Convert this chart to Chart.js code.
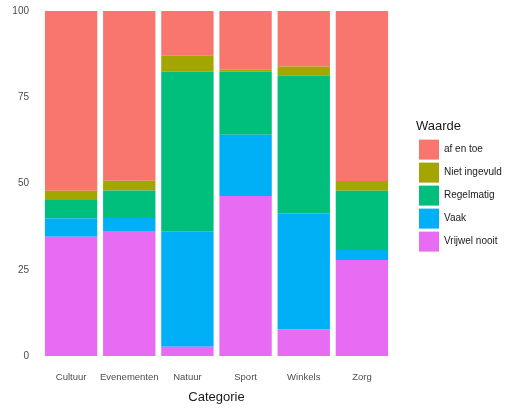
<!DOCTYPE html>
<html>
<head>
<meta charset="utf-8">
<script src="https://cdn.jsdelivr.net/npm/chart.js@4"></script>
<style>
body { margin: 0; background: #fff; }
#wrap { width: 510px; height: 410px; }
</style>
</head>
<body>
<div id="wrap"><canvas id="chart"></canvas></div>
<script>
const categories = ['Cultuur', 'Evenementen', 'Natuur', 'Sport', 'Winkels', 'Zorg']
const vrijwelNooit = [34.6, 36.0, 2.7, 46.4, 7.7, 27.8]
const vaak = [5.3, 4.0, 33.3, 17.7, 33.7, 2.9]
const regelmatig = [5.3, 8.0, 46.4, 18.3, 39.8, 17.2]
const nietIngevuld = [2.7, 2.8, 4.6, 0.6, 2.7, 2.8]
const afEnToe = [52.1, 49.2, 13.0, 17.0, 16.1, 49.3]
const yTicks = [0, 25, 50, 75, 100]

const font = "'Liberation Sans', Arial, sans-serif"

// move the legend to where ggplot puts it
const legendSpot = {
	id: 'legendSpot',
	afterLayout(chart) {
		const lg = chart.legend
		const w = lg.width, h = lg.height
		lg.left = 416
		lg.right = 416 + w
		lg.top = 117
		lg.bottom = 117 + h
	}
}

const chart = new Chart(document.getElementById('chart'), {
	type: 'bar',
	data: {
		labels: categories,
		datasets: [
			{ label: 'Vrijwel nooit', data: vrijwelNooit, backgroundColor: '#E76BF3' },
			{ label: 'Vaak', data: vaak, backgroundColor: '#00B0F6' },
			{ label: 'Regelmatig', data: regelmatig, backgroundColor: '#00BF7D' },
			{ label: 'Niet ingevuld', data: nietIngevuld, backgroundColor: '#A3A500' },
			{ label: 'af en toe', data: afEnToe, backgroundColor: '#F8766D' }
		]
	},
	plugins: [legendSpot],
	options: {
		responsive: true,
		maintainAspectRatio: false,
		animation: false,
		events: [],
		datasets: {
			bar: { barPercentage: 0.9, categoryPercentage: 1, borderWidth: 0 }
		},
		layout: { padding: { top: 11, left: 0, right: 0, bottom: 5 } },
		scales: {
			x: {
				stacked: true,
				afterFit: s => { s.height = 49 },
				grid: { display: false, drawTicks: false },
				border: { display: false },
				ticks: { color: '#4d4d4d', font: { family: font, size: 9.5 }, padding: 16, maxRotation: 0, autoSkip: false },
				title: { display: true, text: 'Categorie', color: '#1a1a1a', font: { family: font, size: 13 }, padding: { top: 0, bottom: 0 } }
			},
			y: {
				stacked: true,
				min: 0,
				max: 100,
				afterFit: s => { s.width = 42 },
				afterBuildTicks: axis => { axis.ticks = yTicks.map(v => ({ value: v })) },
				grid: { display: false, drawTicks: true, tickLength: 13 },
				border: { display: false },
				ticks: { color: '#4d4d4d', font: { family: font, size: 10 }, padding: 0 }
			}
		},
		plugins: {
			legend: {
				position: 'right',
				reverse: true,
				align: 'start',
				title: { display: true, text: 'Waarde', position: 'start', color: '#1a1a1a', font: { family: font, size: 13 }, padding: { top: 3, bottom: 1 } },
				labels: { boxWidth: 20, boxHeight: 20, padding: 3, color: '#1a1a1a', font: { family: font, size: 10 } }
			},
			tooltip: { enabled: false }
		}
	}
})

// ggplot keeps a fixed strip for the legend
const fitLegend = chart.legend.fit
chart.legend.fit = function () {
	fitLegend.call(this)
	this.width = 119
}
chart.update()
</script>
</body>
</html>
